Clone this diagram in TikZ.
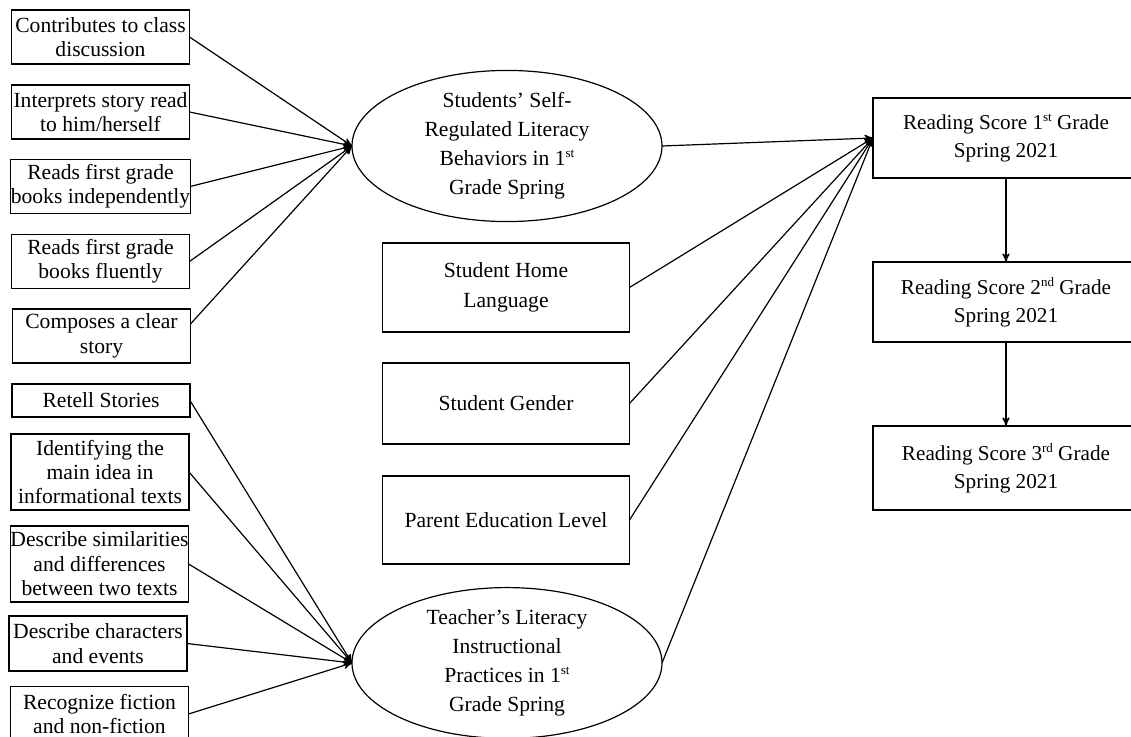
\documentclass[tikz,border=0pt]{standalone}
\usepackage{fontspec}
\setmainfont{Liberation Serif}
\usepackage{tikz}
\usetikzlibrary{positioning}
\usetikzlibrary{arrows,shapes.geometric}

\newcommand{\ordsup}[1]{\raisebox{0.85ex}{\fontsize{6.5}{6.5}\selectfont #1}}

\tikzset{
  item/.style={draw, semithick, inner sep=0pt, outer sep=0pt, align=center,
    minimum width=89pt, minimum height=27pt, font=\fontsize{10.8}{12.2}\selectfont},
  covar/.style={draw, semithick, inner sep=0pt, outer sep=0pt, align=center,
    minimum width=123.5pt, minimum height=44pt, font=\fontsize{10.8}{15}\selectfont},
  factor/.style={ellipse, draw, semithick, inner sep=0pt, outer sep=0pt, align=center,
    minimum width=155pt, minimum height=72pt, font=\fontsize{10.8}{14.5}\selectfont},
  score/.style={draw, semithick, inner sep=0pt, outer sep=0pt, align=center,
    minimum width=133pt, minimum height=40pt, font=\fontsize{10.6}{14}\selectfont}
}

\begin{document}
\begin{tikzpicture}[x=0.5pt,y=-0.5pt,>=stealth',semithick]
  \useasboundingbox (0,0) rectangle (1131,737);

  % indicators of self-regulated behaviors
  \node[item] (Contrib)  at (100.5,37)  {Contributes to class\\discussion};
  \node[item] (Interp)   at (100.5,112) {Interprets story read\\to him/herself};
  \node[item] (ReadsInd) at (100.5,186.5) {Reads first grade\\books independently};
  \node[item] (ReadsFlu) at (100.5,261.5) {Reads first grade\\books fluently};
  \node[item] (Composes) at (101.5,336) {Composes a clear\\story};

  % indicators of instructional practices
  \node[item, minimum height=16.5pt] (Retell)   at (101,400.5) {Retell Stories};
  \node[item, minimum height=38pt]   (MainIdea) at (100,472)   {Identifying the\\main idea in\\informational texts};
  \node[item, minimum height=38pt]   (SimDiff)  at (99.5,564)  {Describe similarities\\and differences\\between two texts};
  \node[item, minimum height=27.5pt] (Chars)    at (98,643.5)  {Describe characters\\and events};
  \node[item, minimum height=27.5pt] (Fiction)  at (99.5,714)  {Recognize fiction\\and non-fiction};

  % latent factors
  \node[factor] (SRL) at (507,146) {Students’ Self-\\Regulated Literacy\\Behaviors in 1\ordsup{st}\\Grade Spring};
  \node[factor, minimum height=73pt] (TLP) at (507,663) {Teacher’s Literacy\\Instructional\\Practices in 1\ordsup{st}\\Grade Spring};

  % covariates
  \node[covar, minimum height=44.5pt] (HomeLang) at (506,287.5) {Student Home\\Language};
  \node[covar, minimum height=40.5pt] (Gender)   at (506,403.5) {Student Gender};
  \node[covar]                        (ParentEd) at (506,520)   {Parent Education Level};

  % outcomes
  \node[score] (Score1) at (1006,138) {Reading Score 1\ordsup{st} Grade\\Spring 2021};
  \node[score] (Score2) at (1006,302) {Reading Score 2\ordsup{nd} Grade\\Spring 2021};
  \node[score, minimum height=42pt] (Score3) at (1006,468) {Reading Score 3\ordsup{rd} Grade\\Spring 2021};

  \path[->]
    (Contrib.east)  edge (SRL.west)
    (Interp.east)   edge (SRL.west)
    (ReadsInd.east) edge (SRL.west)
    (ReadsFlu.east) edge (SRL.west)
    ([yshift=6pt]Composes.east) edge (SRL.west);
  \path[->]
    (Retell.east)   edge (TLP.west)
    (MainIdea.east) edge (TLP.west)
    (SimDiff.east)  edge (TLP.west)
    (Chars.east)    edge (TLP.west)
    (Fiction.east)  edge (TLP.west);
  \path[->]
    (SRL.east)      edge (Score1.west)
    (HomeLang.east) edge (Score1.west)
    (Gender.east)   edge (Score1.west)
    (ParentEd.east) edge (Score1.west)
    (TLP.east)      edge (Score1.west)
    (Score1)        edge (Score2)
    (Score2)        edge (Score3);
\end{tikzpicture}
\end{document}
